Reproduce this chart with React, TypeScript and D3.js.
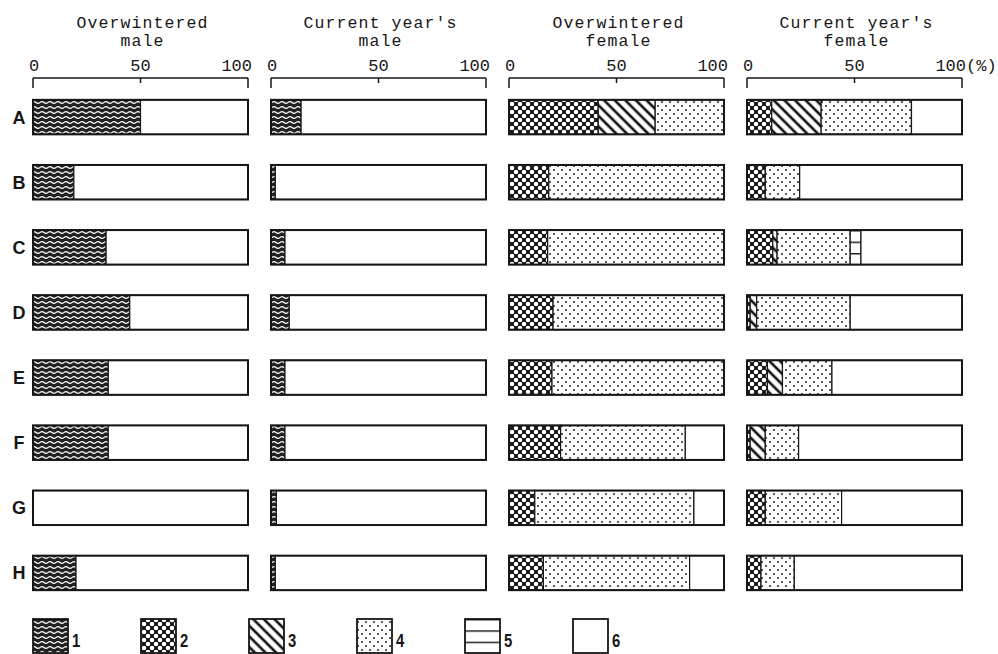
import React from "react";
import * as d3 from "d3";

// ---------- data ----------
const rowLabels = ["A", "B", "C", "D", "E", "F", "G", "H"];
const titleLine1 = ["Overwintered", "Current year's", "Overwintered", "Current year's"];
const titleLine2 = ["male", "male", "female", "female"];
const tickValues = [0, 50, 100];
const legendLabels = ["1", "2", "3", "4", "5", "6"];

// Overwintered male (categories 1, 6)
const owMale1 = [50, 19, 34, 45, 35, 35, 0, 20];
const owMale6 = [50, 81, 66, 55, 65, 65, 100, 80];
// Current year's male (categories 1, 6)
const cyMale1 = [14, 2, 6.5, 8.5, 6.5, 6.5, 2.5, 2];
const cyMale6 = [86, 98, 93.5, 91.5, 93.5, 93.5, 97.5, 98];
// Overwintered female (categories 2, 3, 4, 6)
const owFemale2 = [41.5, 18.5, 18, 20.5, 20, 24, 12, 16];
const owFemale3 = [26.5, 0, 0, 0, 0, 0, 0, 0];
const owFemale4 = [32, 81.5, 82, 79.5, 80, 58, 74, 68];
const owFemale6 = [0, 0, 0, 0, 0, 18, 14, 16];
// Current year's female (categories 2, 3, 4, 5, 6)
const cyFemale2 = [11.5, 8.5, 12, 1.5, 9.5, 1.5, 8.5, 6.5];
const cyFemale3 = [23, 0, 2, 3, 7, 7, 0, 0];
const cyFemale4 = [42, 16, 34, 43.5, 23, 15.5, 35.5, 15.5];
const cyFemale5 = [0, 0, 5, 0, 0, 0, 0, 0];
const cyFemale6 = [23.5, 75.5, 47, 52, 60.5, 76, 56, 78];

type Series = { cat: number; values: number[] };
const panels: Series[][] = [
  [{ cat: 1, values: owMale1 }, { cat: 6, values: owMale6 }],
  [{ cat: 1, values: cyMale1 }, { cat: 6, values: cyMale6 }],
  [
    { cat: 2, values: owFemale2 },
    { cat: 3, values: owFemale3 },
    { cat: 4, values: owFemale4 },
    { cat: 6, values: owFemale6 },
  ],
  [
    { cat: 2, values: cyFemale2 },
    { cat: 3, values: cyFemale3 },
    { cat: 4, values: cyFemale4 },
    { cat: 5, values: cyFemale5 },
    { cat: 6, values: cyFemale6 },
  ],
];

// ---------- layout ----------
const W = 998;
const H = 654;
const panelLeft = [33, 271, 509, 747];
const panelWidth = 215;
const axisY = 78;
const ink = "#161616";
const mono = "'Liberation Mono', 'DejaVu Sans Mono', monospace";

const yBand = d3
  .scaleBand<string>()
  .domain(rowLabels)
  .range([79, 611])
  .paddingInner(0.47)
  .paddingOuter(0.32);

const fillFor = (cat: number) => (cat === 6 ? "#fff" : `url(#pat${cat})`);

function Patterns() {
  return (
    <defs>
      <pattern id="pat1" width={8} height={5} patternUnits="userSpaceOnUse">
        <rect width={8} height={5} fill="#222" />
        <path d="M0 2.5 Q2 0.6 4 2.5 T8 2.5" stroke="#fff" strokeWidth={1.2} fill="none" />
      </pattern>
      <pattern id="pat2" width={8} height={8} patternUnits="userSpaceOnUse">
        <rect width={8} height={8} fill="#111" />
        <circle cx={0} cy={0} r={2.3} fill="#fff" />
        <circle cx={8} cy={0} r={2.3} fill="#fff" />
        <circle cx={0} cy={8} r={2.3} fill="#fff" />
        <circle cx={8} cy={8} r={2.3} fill="#fff" />
        <circle cx={4} cy={4} r={2.3} fill="#fff" />
      </pattern>
      <pattern
        id="pat3"
        width={7.5}
        height={7.5}
        patternUnits="userSpaceOnUse"
        patternTransform="rotate(-45)"
      >
        <rect width={7.5} height={7.5} fill="#fff" />
        <line x1={3.75} y1={0} x2={3.75} y2={7.5} stroke="#111" strokeWidth={2.6} />
      </pattern>
      <pattern id="pat4" width={8} height={8} patternUnits="userSpaceOnUse">
        <rect width={8} height={8} fill="#fff" />
        <circle cx={2} cy={2} r={1} fill="#222" />
        <circle cx={6} cy={6} r={1} fill="#222" />
      </pattern>
      <pattern id="pat5" width={1} height={0.3333} patternUnits="objectBoundingBox">
        <rect width={2000} height={20} fill="#fff" />
        <rect width={2000} height={1.4} fill="#111" />
      </pattern>
    </defs>
  );
}

function Panel({ index }: { index: number }) {
  const x0 = panelLeft[index];
  const x = d3.scaleLinear().domain([0, 100]).range([x0, x0 + panelWidth]);
  const series = panels[index];
  const table = rowLabels.map((r, i) => {
    const o: Record<string, number | string> = { row: r };
    series.forEach((s) => (o[String(s.cat)] = s.values[i]));
    return o;
  });
  const stacked = d3
    .stack<Record<string, number | string>>()
    .keys(series.map((s) => String(s.cat)))
    .value((d, k) => Number(d[k]))(table);
  const cx = (x(0) + x(100)) / 2;
  const bh = yBand.bandwidth();
  return (
    <g>
      <text x={cx + 2} y={28} textAnchor="middle" fontFamily={mono} fontSize={16.5} letterSpacing={1.1} fill={ink}>
        {titleLine1[index]}
      </text>
      <text x={cx + 2} y={46} textAnchor="middle" fontFamily={mono} fontSize={16.5} letterSpacing={1.1} fill={ink}>
        {titleLine2[index]}
      </text>
      {/* axis */}
      <line x1={x(0)} x2={x(100)} y1={axisY} y2={axisY} stroke={ink} strokeWidth={1.5} />
      {tickValues.map((t) => (
        <line
          key={t}
          x1={x(t)}
          x2={x(t)}
          y1={axisY}
          y2={t === 50 ? axisY + 5 : axisY + 10}
          stroke={ink}
          strokeWidth={1.5}
        />
      ))}
      {tickValues.map((t) => (
        <text
          key={"l" + t}
          x={t === 100 ? x(t) + 4 : x(t) + (t === 0 ? 1 : 0)}
          y={71}
          textAnchor={t === 100 ? "end" : "middle"}
          fontFamily={mono}
          fontSize={17}
          fill={ink}
        >
          {t}
        </text>
      ))}
      {index === 3 && (
        <text x={x(100) + 4} y={71} fontFamily={mono} fontSize={17} fill={ink}>
          (%)
        </text>
      )}
      {/* bars */}
      {stacked.map((layer) =>
        layer.map((seg, i) => {
          const w = x(seg[1]) - x(seg[0]);
          if (w <= 0) return null;
          return (
            <rect
              key={layer.key + "-" + i}
              x={x(seg[0])}
              y={yBand(rowLabels[i])}
              width={w}
              height={bh}
              fill={fillFor(Number(layer.key))}
              stroke={ink}
              strokeWidth={1.2}
            />
          );
        })
      )}
      {rowLabels.map((r) => (
        <rect
          key={"o" + r}
          x={x(0)}
          y={yBand(r)}
          width={x(100) - x(0)}
          height={bh}
          fill="none"
          stroke={ink}
          strokeWidth={2}
        />
      ))}
    </g>
  );
}

export default function App() {
  const legendX = d3.scaleLinear().domain([0, 5]).range([33, 573]);
  return (
    <svg
      width={W}
      height={H}
      viewBox={`0 0 ${W} ${H}`}
      style={{ position: "absolute", left: 0, top: 0, background: "#fff" }}
    >
      <Patterns />
      <rect width={W} height={H} fill="#fff" />
      {panels.map((_, i) => (
        <Panel key={i} index={i} />
      ))}
      {rowLabels.map((r) => (
        <text
          key={r}
          x={19}
          y={(yBand(r) as number) + yBand.bandwidth() / 2 + 6.5}
          textAnchor="middle"
          fontFamily="'Liberation Sans', Arial, sans-serif"
          fontWeight="bold"
          fontSize={18}
          fill={ink}
        >
          {r}
        </text>
      ))}
      {legendLabels.map((l, i) => (
        <g key={l}>
          <rect
            x={legendX(i)}
            y={619}
            width={35}
            height={34}
            fill={fillFor(i + 1)}
            stroke={ink}
            strokeWidth={1.8}
          />
          <text
            transform={`translate(${legendX(i) + 39},647) scale(0.78,1)`}
            fontFamily="'Liberation Sans', sans-serif"
            fontWeight="bold"
            fontSize={19}
            fill={ink}
          >
            {l}
          </text>
        </g>
      ))}
    </svg>
  );
}
